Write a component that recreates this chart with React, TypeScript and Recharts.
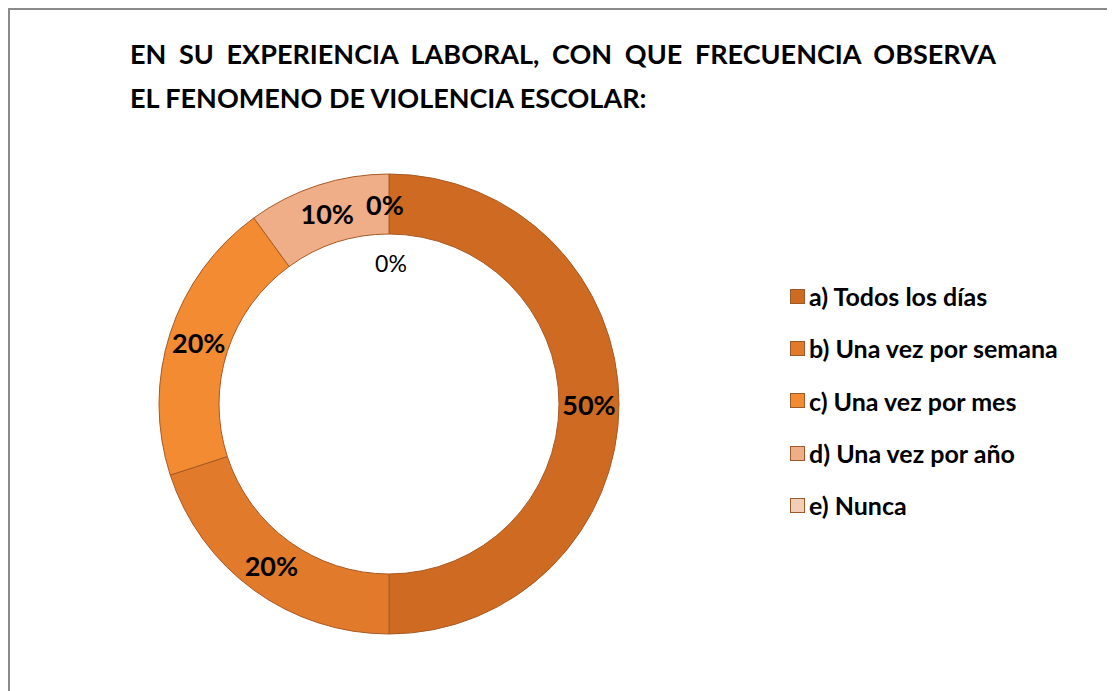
import { PieChart, Pie, Cell, Legend } from "recharts";

// categories & values (last one is an unlabeled empty point)
const categories = [
  "a) Todos los días",
  "b) Una vez por semana",
  "c) Una vez por mes",
  "d) Una vez por año",
  "e) Nunca",
  "",
];
const values = [50, 20, 20, 10, 0, 0];
const colors = ["#cf6a22", "#e27a2c", "#f28b32", "#efae88", "#f4cdb6", "#f8e0d0"];

const titleLines = [
  "EN SU EXPERIENCIA LABORAL, CON QUE FRECUENCIA OBSERVA",
  "EL FENOMENO DE VIOLENCIA ESCOLAR:",
];

const data = categories.map((name, i) => ({ name, value: values[i] }));

const FONT = "Lato, 'Open Sans', 'Liberation Sans', sans-serif";

const RAD = Math.PI / 180;

function renderLabel(props: any) {
  const { cx, cy, midAngle, innerRadius, outerRadius, value, index } = props;
  let r = (innerRadius + outerRadius) / 2;
  let dx = 0;
  let bold = true;
  let size = 27;
  if (index === 5) {
    r = 141;
    dx = 2;
    bold = false;
    size = 23;
  } else if (index === 4) {
    dx = -4;
  }
  const x = cx + r * Math.cos(-midAngle * RAD) + dx;
  const y = cy + r * Math.sin(-midAngle * RAD);
  return (
    <text
      x={x}
      y={y}
      textAnchor="middle"
      dominantBaseline="central"
      fontFamily={FONT}
      fontWeight={bold ? 700 : 400}
      fontSize={size}
      fill="#000"
    >
      {`${value}%`}
    </text>
  );
}

function renderLegend(props: any) {
  const items = (props.payload || []).filter((p: any) => p.value !== "");
  return (
    <div style={{ fontFamily: FONT }}>
      {items.map((p: any, i: number) => (
        <div
          key={i}
          style={{ display: "flex", alignItems: "center", height: 52.3, fontSize: 25, fontWeight: 700 }}
        >
          <span
            style={{
              display: "inline-block",
              width: 13,
              height: 13,
              marginRight: 4,
              background: colors[i],
              border: "1px solid #9c5a2a",
            }}
          />
          {p.value}
        </div>
      ))}
    </div>
  );
}

export default function App() {
  return (
    <div
      style={{
        position: "relative",
        width: 1100,
        height: 700,
        border: "2px solid #8a8a8a",
        background: "#fff",
        fontFamily: FONT,
      }}
    >
      <div
        style={{
          position: "absolute",
          left: 120,
          top: 22,
          width: 866,
          fontSize: 27,
          fontWeight: 700,
          lineHeight: "44px",
          color: "#000",
        }}
      >
        <div style={{ textAlign: "justify", textAlignLast: "justify", whiteSpace: "nowrap" as any }}>
          {titleLines[0]}
        </div>
        <div>{titleLines[1]}</div>
      </div>
      <PieChart width={1100} height={690} style={{ position: "absolute", left: 0, top: -2 }}>
        <Pie
          data={data}
          dataKey="value"
          nameKey="name"
          cx={374}
          cy={391}
          innerRadius={170}
          outerRadius={230}
          startAngle={90}
          endAngle={-270}
          stroke="#a85a24"
          strokeWidth={1}
          label={renderLabel}
          labelLine={false}
          isAnimationActive={false}
        >
          {data.map((_, i) => (
            <Cell key={i} fill={colors[i]} />
          ))}
        </Pie>
        <Legend
          content={renderLegend}
          wrapperStyle={{ position: "absolute", left: 780, top: 262, width: 330 }}
        />
      </PieChart>
    </div>
  );
}
